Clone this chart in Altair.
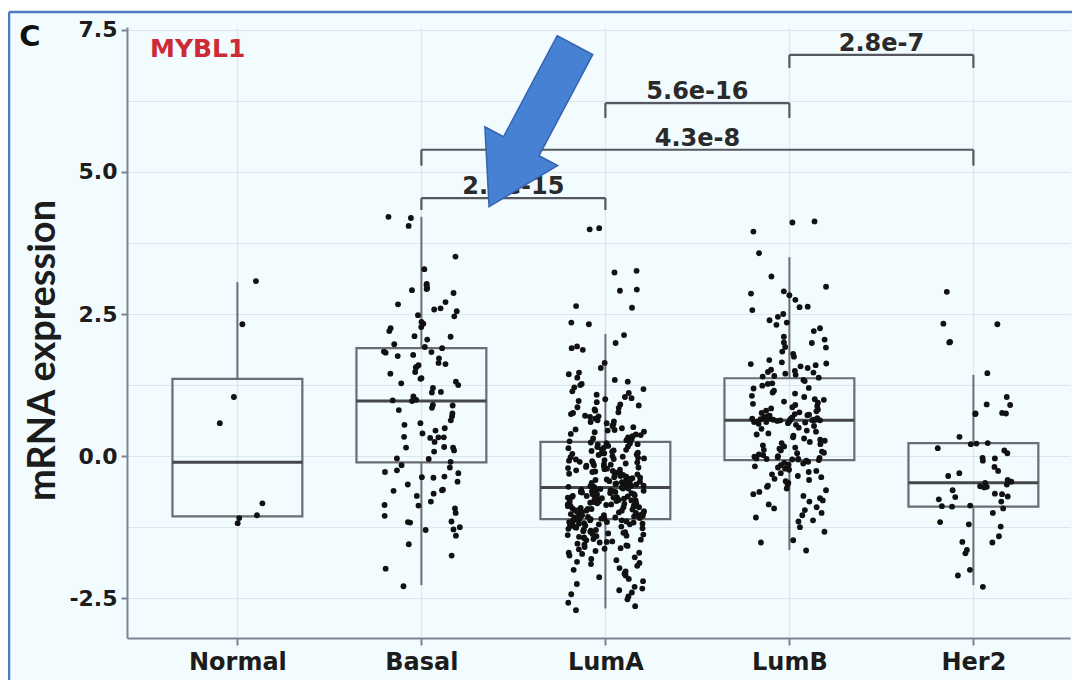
import json
import math
import pandas as pd
import altair as alt

# ---------------- data ----------------
categories = ["Normal", "Basal", "LumA", "LumB", "Her2"]

box_low = [-1.06, -2.27, -2.68, -1.65, -2.27]
box_q1 = [-1.06, -0.11, -1.11, -0.07, -0.89]
box_median = [-0.11, 0.97, -0.55, 0.63, -0.47]
box_q3 = [1.36, 1.90, 0.25, 1.37, 0.23]
box_high = [3.06, 4.21, 2.15, 3.50, 1.43]

normal_values = [3.08, 2.32, 1.04, 0.58, -0.83, -1.04, -1.18, -1.09]

basal_values = [
    4.21, 4.19, 4.05, 3.51, 3.29, 3.03, 3.01, 2.96, 2.94, 2.92, 2.87, 2.71, 2.67,
    2.60, 2.58, 2.55, 2.48, 2.46, 2.36, 2.33, 2.27, 2.25, 2.20, 2.11, 2.10, 2.05,
    1.97, 1.92, 1.90, 1.84, 1.83, 1.82, 1.78, 1.76, 1.72, 1.64, 1.62, 1.60, 1.57,
    1.56, 1.48, 1.45, 1.37, 1.36, 1.31, 1.28, 1.25, 1.20, 1.13, 1.12, 1.05, 0.99,
    0.98, 0.97, 0.90, 0.89, 0.85, 0.81, 0.75, 0.70, 0.63, 0.58, 0.55, 0.49, 0.45,
    0.40, 0.34, 0.33, 0.33, 0.32, 0.25, 0.16, 0.15, 0.15, 0.10, 0.08, -0.04, -0.05,
    -0.10, -0.16, -0.20, -0.25, -0.28, -0.30, -0.36, -0.37, -0.38, -0.45, -0.50,
    -0.60, -0.59, -0.61, -0.66, -0.70, -0.80, -0.86, -0.87, -0.92, -1.00, -1.05,
    -1.16, -1.17, -1.15, -1.25, -1.29, -1.30, -1.40, -1.55, -1.75, -1.98, -2.29,
]

luma_values = [
    4.01, 3.99, 3.26, 3.23, 2.93, 2.91, 2.64, 2.61, 2.35, 2.32, 2.13, 1.99, 1.93,
    1.90, 1.87, 1.64, 1.55, 1.47, 1.44, 1.38, 1.34, 1.31, 1.27, 1.25, 1.21, 1.18,
    1.14, 1.11, 1.08, 1.04, 1.02, 1.00, 0.97, 0.95, 0.91, 0.89, 0.86, 0.85, 0.82,
    0.80, 0.77, 0.76, 0.74, 0.71, 0.70, 0.69, 0.66, 0.63, 0.61, 0.60, 0.58, 0.56,
    0.53, 0.51, 0.49, 0.47, 0.46, 0.45, 0.43, 0.42, 0.39, 0.38, 0.37, 0.35, 0.33,
    0.31, 0.30, 0.28, 0.27, 0.26,
    0.24, 0.23, 0.22, 0.21, 0.20, 0.18, 0.17, 0.16, 0.15, 0.14, 0.12, 0.11, 0.10,
    0.09, 0.08, 0.06, 0.05, 0.05, 0.04, 0.03, 0.02, 0.00, -0.01, -0.02, -0.03,
    -0.04, -0.05, -0.06, -0.07, -0.08, -0.09, -0.10, -0.11, -0.12, -0.13, -0.14,
    -0.15, -0.16, -0.17, -0.18, -0.19, -0.20, -0.21, -0.22, -0.23, -0.24, -0.25,
    -0.26, -0.27, -0.28, -0.29, -0.30, -0.31, -0.32, -0.33, -0.34, -0.35, -0.36,
    -0.36, -0.37, -0.38, -0.39, -0.40, -0.41, -0.42, -0.43, -0.44, -0.44, -0.45,
    -0.46, -0.46, -0.47, -0.48, -0.48, -0.49, -0.50, -0.50, -0.51, -0.52, -0.52,
    -0.53, -0.53, -0.54, -0.54, -0.55,
    -0.56, -0.57, -0.57, -0.58, -0.58, -0.59, -0.60, -0.60, -0.61, -0.62, -0.62,
    -0.63, -0.63, -0.64, -0.65, -0.65, -0.66, -0.67, -0.67, -0.68, -0.68, -0.69,
    -0.70, -0.70, -0.71, -0.72, -0.72, -0.73, -0.73, -0.74, -0.75, -0.75, -0.76,
    -0.77, -0.78, -0.78, -0.79, -0.80, -0.80, -0.81, -0.82, -0.83, -0.83, -0.84,
    -0.85, -0.85, -0.86, -0.87, -0.87, -0.88, -0.88, -0.89, -0.90, -0.90, -0.91,
    -0.92, -0.93, -0.93, -0.94, -0.95, -0.95, -0.96, -0.96, -0.97, -0.98, -0.98,
    -0.99, -1.00, -1.00, -1.01, -1.02, -1.03, -1.03, -1.04, -1.04, -1.05, -1.05,
    -1.06, -1.06, -1.07, -1.08, -1.08, -1.09, -1.09, -1.10, -1.10, -1.10, -1.11,
    -1.11, -1.11,
    -1.12, -1.13, -1.13, -1.14, -1.15, -1.16, -1.16, -1.17, -1.18, -1.19, -1.19,
    -1.20, -1.20, -1.21, -1.22, -1.23, -1.24, -1.25, -1.26, -1.27, -1.28, -1.29,
    -1.30, -1.31, -1.32, -1.33, -1.34, -1.35, -1.36, -1.37, -1.38, -1.39, -1.40,
    -1.41, -1.42, -1.43, -1.44, -1.46, -1.47, -1.48, -1.50, -1.51, -1.52, -1.54,
    -1.56, -1.57, -1.58, -1.60, -1.62, -1.63, -1.64, -1.67, -1.70, -1.70, -1.72,
    -1.75, -1.78, -1.81, -1.83, -1.86, -1.88, -1.90, -1.93, -1.97, -2.00, -2.03,
    -2.07, -2.10, -2.13, -2.16, -2.20, -2.25, -2.30, -2.33, -2.36, -2.40, -2.43,
    -2.47, -2.52, -2.58, -2.64, -2.71,
]

lumb_values = [
    4.13, 4.11, 3.95, 3.57, 3.16, 2.98, 2.90, 2.86, 2.83, 2.75, 2.63, 2.62, 2.57,
    2.50, 2.45, 2.39, 2.35, 2.31, 2.25, 2.20, 2.10, 2.05, 2.00, 1.99, 1.92, 1.91,
    1.84, 1.80, 1.75, 1.69, 1.65, 1.63, 1.62, 1.60, 1.58, 1.55, 1.52, 1.50, 1.48,
    1.47, 1.45, 1.43, 1.41, 1.40, 1.38,
    1.34, 1.32, 1.28, 1.27, 1.24, 1.20, 1.19, 1.15, 1.12, 1.10, 1.06, 1.04, 1.00,
    0.99, 0.96, 0.94, 0.92, 0.90, 0.88, 0.86, 0.84, 0.82, 0.80, 0.79, 0.77, 0.76,
    0.74, 0.73, 0.72, 0.71, 0.70, 0.69, 0.68, 0.68, 0.67, 0.66, 0.66, 0.65, 0.65,
    0.64, 0.64, 0.64, 0.63, 0.63, 0.63,
    0.62, 0.62, 0.61, 0.60, 0.60, 0.59, 0.58, 0.57, 0.55, 0.53, 0.50, 0.48, 0.45,
    0.43, 0.40, 0.38, 0.36, 0.33, 0.31, 0.29, 0.27, 0.25, 0.23, 0.21, 0.19, 0.17,
    0.15, 0.13, 0.11, 0.10, 0.08, 0.06, 0.05, 0.03, 0.02, 0.00, -0.01, -0.02,
    -0.03, -0.04, -0.05, -0.05, -0.06, -0.06, -0.07,
    -0.08, -0.10, -0.12, -0.13, -0.15, -0.16, -0.18, -0.20, -0.22, -0.24, -0.26,
    -0.28, -0.30, -0.32, -0.35, -0.37, -0.40, -0.42, -0.44, -0.47, -0.50, -0.52,
    -0.54, -0.57, -0.60, -0.63, -0.67, -0.70, -0.74, -0.78, -0.80, -0.85, -0.90,
    -0.92, -0.95, -1.00, -1.04, -1.08, -1.13, -1.15, -1.25, -1.33, -1.48, -1.52,
    -1.66,
]

her2_values = [
    2.89, 2.33, 2.32, 2.01, 2.00, 1.46, 1.04, 0.91, 0.90, 0.76, 0.75, 0.75, 0.74,
    0.34, 0.23, 0.22, 0.21, 0.14, 0.10, 0.05, -0.03, -0.04, -0.08, -0.19, -0.26,
    -0.30, -0.35, -0.42, -0.45, -0.47, -0.50, -0.53, -0.54, -0.55, -0.60, -0.66,
    -0.67, -0.71, -0.72, -0.76, -0.80, -0.87, -0.88, -0.89, -0.92, -1.00, -1.16,
    -1.20, -1.24, -1.41, -1.51, -1.52, -1.65, -1.71, -2.00, -2.10, -2.30,
]

bracket_from = ["Basal", "Basal", "LumA", "LumB"]
bracket_to = ["LumA", "Her2", "LumB", "Her2"]
bracket_y = [4.54, 5.39, 6.21, 7.06]
bracket_leg_end = [4.33, 5.11, 5.95, 6.83]
bracket_labels = ["2.7e-15", "4.3e-8", "5.6e-16", "2.8e-7"]

y_grid_values = [-2.5, -1.25, 0.0, 1.25, 2.5, 3.75, 5.0, 6.25, 7.5]

# ---------------- tables ----------------
group_values = [normal_values, basal_values, luma_values, lumb_values, her2_values]
rows = []
for gi, vals in enumerate(group_values):
    for k, v in enumerate(vals):
        h = math.sin((k + 1) * 12.9898 + (gi + 1) * 78.233) * 43758.5453
        frac = h - math.floor(h)  # deterministic jitter spread
        rows.append({"group": categories[gi], "pos": gi + (frac - 0.5) * 0.42, "value": v})
points_df = pd.DataFrame(rows)

box_df = pd.DataFrame({
    "group": categories,
    "idx": list(range(len(categories))),
    "low": box_low, "q1": box_q1, "median": box_median,
    "q3": box_q3, "high": box_high,
})

br_df = pd.DataFrame({
    "x1": [categories.index(c) for c in bracket_from],
    "x2": [categories.index(c) for c in bracket_to],
    "y": bracket_y, "leg": bracket_leg_end, "label": bracket_labels,
})
leg_rows = []
for _, r in br_df.iterrows():
    leg_rows.append({"x": r["x1"], "y": r["y"], "leg": r["leg"]})
    leg_rows.append({"x": r["x2"], "y": r["y"], "leg": r["leg"]})
leg_df = pd.DataFrame(leg_rows)

# ---------------- styling ----------------
BG = "#f2fbfd"
GRID = "#dde5f3"
AXIS = "#7c8396"
BOX = "#6a6d75"
W, H = 943, 611

xs = alt.Scale(domain=[-0.6, 4.525], nice=False, zero=False)
ys = alt.Scale(domain=[-3.2, 7.55], nice=False, zero=False)

x_axis = alt.Axis(
    values=list(range(len(categories))),
    labelExpr=json.dumps(categories) + "[datum.value]",
    title=None, grid=True, gridColor=GRID, gridWidth=1.2,
    domainColor=AXIS, domainWidth=2, tickColor=AXIS, tickWidth=2, tickSize=7,
    labelFont="DejaVu Sans", labelFontSize=24, labelFontWeight="bold",
    labelColor="#1c1c1c", labelPadding=5,
)
y_axis = alt.Axis(
    values=y_grid_values,
    labelExpr="datum.value % 2.5 === 0 ? (datum.value < 0 ? '-' : '') + format(abs(datum.value), '.1f') : ''",
    tickOpacity={"condition": {"test": "datum.value % 2.5 === 0", "value": 1}, "value": 0},
    title="mRNA expression", grid=True, gridColor=GRID, gridWidth=1.2,
    domainColor=AXIS, domainWidth=2, tickColor=AXIS, tickWidth=2, tickSize=6,
    labelFont="DejaVu Sans", labelFontSize=22, labelFontWeight="bold",
    labelColor="#1c1c1c", labelPadding=4,
    titleFont="Lato", titleFontSize=38, titleFontWeight="bold", titleColor="#1c1c1c",
    titleX=-84, titleY=323, titleAngle=270, titleAlign="center", titleBaseline="middle",
)


def X(field):
    return alt.X(field, type="quantitative", scale=xs, axis=x_axis)


def Y(field):
    return alt.Y(field, type="quantitative", scale=ys, axis=y_axis)


boxbase = alt.Chart(box_df).transform_calculate(
    xl="datum.idx - 0.353", xr="datum.idx + 0.353"
)

whisk_up = boxbase.mark_rule(color=BOX, strokeWidth=2).encode(
    x=X("idx"), y=Y("q3"), y2="high"
)
whisk_lo = boxbase.mark_rule(color=BOX, strokeWidth=2).encode(
    x=X("idx"), y=Y("low"), y2="q1"
)
boxes = boxbase.mark_rect(fillOpacity=0, stroke=BOX, strokeWidth=2.2).encode(
    x=X("xl"), x2="xr", y=Y("q1"), y2="q3"
)
medians = boxbase.mark_rule(color="#45474d", strokeWidth=3).encode(
    x=X("xl"), x2="xr", y=Y("median")
)

points = alt.Chart(points_df).mark_circle(size=34, color="#111111", opacity=1).encode(
    x=X("pos"), y=Y("value")
)

br_h = alt.Chart(br_df).mark_rule(color="#55585f", strokeWidth=2.2).encode(
    x=X("x1"), x2="x2", y=Y("y")
)
br_v = alt.Chart(leg_df).mark_rule(color="#55585f", strokeWidth=2.2).encode(
    x=X("x"), y=Y("leg"), y2="y"
)
br_t = alt.Chart(br_df).transform_calculate(
    mid="(datum.x1 + datum.x2) / 2"
).mark_text(
    font="DejaVu Sans", fontSize=24, fontWeight="bold", color="#2a2a2a",
    baseline="alphabetic", dy=-4,
).encode(x=X("mid"), y=Y("y"), text="label:N")

# decorations (frame, panel letter, gene name, arrow)
deco = pd.DataFrame({"k": [0]})
top_strip = alt.Chart(deco).mark_rect(color="#ffffff").encode(
    x=alt.value(-119), x2=alt.value(1000), y=alt.value(-19), y2=alt.value(-15)
)
frame_top = alt.Chart(deco).mark_rule(color="#4a7cc2", strokeWidth=2.5).encode(
    x=alt.value(-118), x2=alt.value(1000), y=alt.value(-15)
)
frame_left = alt.Chart(deco).mark_rule(color="#4a7cc2", strokeWidth=2.5).encode(
    x=alt.value(-118), y=alt.value(-15), y2=alt.value(700)
)
panel_c = alt.Chart(deco).mark_text(
    text="C", font="DejaVu Sans", fontSize=29, fontWeight="bold", color="#111111",
    align="center", baseline="middle",
).encode(x=alt.value(-97), y=alt.value(10))
gene = alt.Chart(deco).mark_text(
    text="MYBL1", font="DejaVu Sans", fontSize=25, fontWeight="bold", color="#cc2a36",
    align="left", baseline="middle",
).encode(x=alt.value(23), y=alt.value(22))

arrow_path = "M -0.22 -1 L 0.22 -1 L 0.22 0.25 L 0.45 0.25 L 0 1 L -0.45 0.25 L -0.22 0.25 Z"
arrow = alt.Chart(deco).mark_point(
    shape=arrow_path, filled=True, fill="#4681d3", stroke="#3563ad",
    strokeWidth=1.5, opacity=1, fillOpacity=1, size=183 * 183, angle=28,
).encode(x=alt.value(405), y=alt.value(99))

chart = alt.layer(
    whisk_up, whisk_lo, boxes, medians, points, br_h, br_v, br_t,
    top_strip, frame_top, frame_left, panel_c, gene, arrow,
).properties(
    width=W, height=H,
    padding={"left": 119, "top": 19, "right": 2, "bottom": 42},
    autosize=alt.AutoSizeParams(type="none"),
    background=BG,
).configure_view(strokeWidth=0)

chart.save("out.html", embed_options={"renderer": "svg", "actions": False})
